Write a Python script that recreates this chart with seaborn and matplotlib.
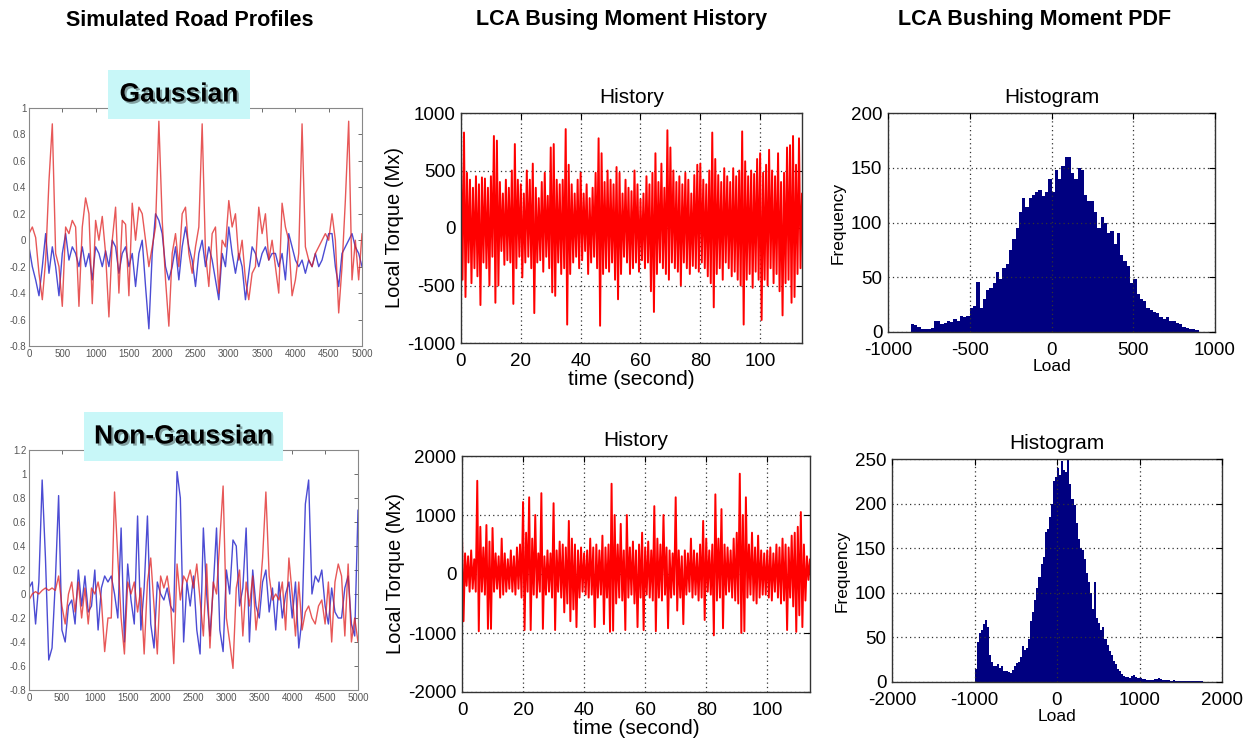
import numpy as np
import pandas as pd
import seaborn as sns
import matplotlib.pyplot as plt
from matplotlib.patches import Rectangle
from matplotlib.ticker import FuncFormatter
import matplotlib.patheffects as pe

sns.set_theme(style="white")
plt.rcParams['font.family'] = ['Liberation Sans', 'DejaVu Sans']
plt.rcParams['axes.unicode_minus'] = False
plt.rcParams['text.color'] = 'black'
plt.rcParams['axes.labelcolor'] = 'black'

# road profiles, one value every 50 samples (0..5000)
gauss_red = [0.05, 0.10, 0.02, -0.25, -0.45, -0.15, 0.45, 0.88, -0.10, -0.20,
             -0.50, 0.10, 0.05, 0.15, 0.10, -0.50, 0.10, 0.32, 0.20, -0.48,
             0.15, 0.00, 0.18, -0.10, -0.58, 0.00, 0.25, -0.40, 0.15, 0.12,
             -0.42, 0.28, 0.00, 0.25, 0.20, 0.00, -0.20, -0.05, 0.10, 0.90,
             0.15, -0.30, -0.65, -0.10, 0.05, -0.20, 0.20, 0.25, -0.10, -0.25,
             -0.05, 0.10, 0.88, -0.10, -0.35, 0.05, 0.10, -0.40, 0.00, -0.05,
             0.30, 0.10, 0.20, -0.15, 0.00, -0.30, -0.45, -0.25, -0.20, 0.25,
             0.05, 0.20, -0.15, 0.00, -0.20, -0.40, 0.28, 0.10, 0.00, -0.42,
             -0.30, -0.10, 0.88, -0.05, -0.15, -0.20, -0.10, -0.05, 0.00, 0.05,
             0.00, 0.20, 0.00, -0.55, -0.20, 0.30, 0.90, -0.30, 0.00, -0.30, 0.05]
gauss_blue = [-0.05, -0.20, -0.30, -0.42, -0.20, 0.05, -0.25, -0.05, -0.20, -0.42,
              -0.10, 0.05, -0.15, -0.05, -0.10, -0.20, -0.05, -0.20, -0.10, -0.30,
              -0.05, -0.10, -0.20, -0.08, -0.20, 0.00, -0.05, -0.25, -0.10, -0.05,
              -0.20, -0.10, -0.35, -0.10, 0.00, -0.35, -0.67, -0.10, 0.20, 0.15,
              0.05, -0.20, -0.30, -0.20, -0.05, -0.30, -0.05, 0.10, -0.05, -0.15,
              -0.35, -0.10, 0.00, -0.20, -0.05, -0.15, -0.30, -0.45, -0.10, -0.20,
              0.10, -0.10, -0.25, -0.10, -0.20, -0.45, -0.25, -0.05, -0.10, -0.20,
              -0.10, -0.05, -0.15, -0.10, -0.10, -0.20, -0.10, -0.30, 0.05, -0.05,
              -0.15, -0.20, -0.15, -0.25, -0.15, -0.20, -0.10, -0.20, -0.15, -0.05,
              0.05, 0.05, -0.20, -0.35, -0.10, -0.05, 0.00, 0.05, -0.05, -0.10, -0.20]
nongauss_blue = [0.05, 0.10, -0.25, 0.10, 0.95, 0.30, -0.55, -0.45, 0.10, 0.82,
                 -0.30, -0.40, -0.10, -0.05, -0.25, 0.20, -0.10, 0.15, -0.15, -0.10,
                 0.20, -0.30, 0.05, 0.15, 0.10, 0.15, 0.00, -0.20, 0.55, -0.40,
                 0.25, -0.05, -0.25, 0.65, -0.30, 0.05, 0.65, -0.25, -0.45, 0.10,
                 0.00, -0.05, 0.05, -0.10, -0.15, 1.02, 0.80, -0.40, 0.10, -0.10,
                 0.15, -0.30, -0.50, 0.55, 0.00, -0.35, 0.05, 0.55, -0.30, -0.48,
                 0.20, 0.00, 0.45, 0.40, -0.10, 0.05, 0.55, -0.40, 0.20, -0.10,
                 -0.20, 0.10, 0.20, -0.15, 0.05, -0.30, 0.10, -0.20, 0.00, 0.10,
                 -0.20, 0.10, -0.45, -0.20, 0.75, 0.95, 0.00, 0.15, 0.10, 0.20,
                 -0.10, -0.25, 0.05, -0.15, -0.20, -0.20, 0.05, 0.15, -0.25, -0.35, 0.70]
nongauss_red = [-0.05, 0.00, 0.02, 0.00, 0.03, 0.05, 0.03, 0.05, 0.03, 0.15,
                -0.10, -0.25, 0.00, 0.10, -0.15, 0.10, -0.20, 0.05, -0.25, 0.05,
                0.00, 0.10, -0.05, -0.48, -0.20, -0.20, 0.85, 0.30, -0.20, -0.50,
                0.10, 0.00, 0.10, -0.15, 0.05, -0.50, 0.10, 0.30, -0.10, -0.50,
                0.15, 0.05, 0.15, -0.05, -0.58, 0.25, -0.05, 0.15, 0.10, 0.20,
                0.05, 0.25, -0.05, -0.35, 0.25, -0.45, 0.10, 0.00, 0.45, 0.90,
                -0.20, -0.40, -0.62, 0.05, 0.20, -0.35, 0.10, -0.10, 0.15, -0.30,
                -0.05, 0.30, 0.85, 0.15, -0.05, 0.00, -0.05, 0.10, -0.30, 0.30,
                0.00, -0.35, 0.10, -0.30, -0.15, -0.10, -0.20, -0.25, -0.10, -0.05,
                -0.25, 0.10, -0.40, 0.10, 0.25, 0.15, -0.35, 0.25, -0.40, -0.20, -0.40]

# LCA moment history: local peaks and troughs, one pair per second
g_hist_hi = [600, 830, 480, 420, 350, 450, 380, 440, 430, 350, 450, 800, 760, 400, 300,
             420, 350, 500, 730, 420, 380, 300, 500, 420, 560, 350, 260, 400, 480, 280,
             700, 730, 420, 380, 420, 860, 550, 380, 300, 420, 480, 300, 380, 260, 350,
             480, 780, 650, 400, 500, 420, 380, 530, 480, 300, 420, 350, 320, 500, 380,
             250, 300, 450, 380, 480, 650, 400, 560, 350, 850, 700, 500, 400, 450, 380,
             480, 420, 300, 460, 550, 560, 420, 380, 500, 830, 600, 460, 400, 520, 450,
             400, 520, 450, 500, 840, 580, 450, 500, 470, 600, 650, 480, 550, 680, 500,
             450, 650, 400, 480, 700, 720, 800, 550, 780, 300]
g_hist_lo = [-450, -600, -300, -480, -350, -420, -670, -300, -350, -500, -250, -650, -500, -200, -320,
             -280, -300, -660, -350, -250, -430, -300, -250, -350, -740, -300, -280, -380, -250, -350,
             -560, -590, -300, -400, -350, -840, -400, -300, -250, -350, -280, -200, -400, -300, -250,
             -350, -850, -400, -350, -380, -300, -450, -620, -400, -250, -300, -400, -350, -300, -380,
             -280, -350, -300, -550, -730, -400, -300, -350, -400, -450, -300, -350, -380, -500, -300,
             -350, -400, -330, -350, -380, -300, -350, -420, -480, -690, -400, -350, -450, -300, -350,
             -420, -380, -450, -500, -840, -450, -400, -520, -380, -450, -800, -450, -500, -350, -480,
             -400, -550, -760, -480, -450, -650, -600, -400, -350, -250]
ng_hist_hi = [650, 350, 300, 400, 250, 1580, 800, 450, 830, 550, 780, 350, 300, 600, 350,
              250, 400, 300, 450, 500, 1220, 700, 1300, 600, 1000, 350, 1370, 300, 400, 350,
              1200, 400, 550, 500, 450, 900, 600, 500, 400, 450, 350, 400, 600, 450, 500,
              400, 650, 450, 500, 1530, 1000, 500, 850, 400, 1000, 450, 550, 400, 500, 700,
              450, 550, 400, 1150, 600, 500, 1000, 450, 400, 350, 1300, 400, 300, 400, 350,
              600, 400, 350, 500, 900, 600, 400, 500, 1350, 600, 1100, 500, 450, 400, 600,
              700, 1700, 1000, 1300, 500, 700, 450, 650, 400, 350, 400, 450, 350, 500, 450,
              600, 500, 450, 650, 700, 800, 1050, 500, 300, 250]
ng_hist_lo = [-800, -200, -300, -250, -300, -970, -300, -350, -930, -930, -300, -250, -400, -350, -300,
              -250, -300, -350, -250, -400, -950, -300, -950, -350, -400, -300, -930, -350, -300, -400,
              -950, -300, -400, -650, -500, -800, -600, -900, -400, -300, -350, -400, -350, -900, -400,
              -350, -850, -400, -980, -960, -500, -400, -450, -950, -400, -350, -500, -900, -400, -950,
              -350, -400, -450, -970, -400, -450, -350, -920, -400, -350, -620, -400, -850, -350, -300,
              -400, -350, -450, -400, -780, -300, -350, -1040, -450, -400, -920, -350, -300, -400, -450,
              -500, -1000, -970, -400, -350, -450, -500, -400, -350, -350, -400, -450, -300, -400, -500,
              -450, -950, -400, -550, -980, -700, -900, -450, -100, -200]

# LCA moment histograms (bin counts)
g_bin_start = -860
g_bin_width = 20
g_counts = [7, 6, 5, 3, 3, 3, 4, 10, 10, 7, 8, 10, 9, 12, 10, 15, 14, 15, 22, 24,
            46, 22, 30, 38, 40, 45, 55, 48, 58, 62, 75, 85, 95, 110, 122, 114, 122, 125, 128, 130,
            124, 128, 140, 128, 148, 140, 152, 160, 160, 145, 140, 150, 148, 125, 120, 120, 110, 95, 105, 100,
            90, 92, 80, 90, 70, 65, 60, 45, 48, 35, 30, 28, 22, 20, 18, 17, 14, 12, 14, 10,
            10, 8, 7, 5, 4, 3, 3, 2]
ng_bin_start = -1000
ng_bin_width = 25
ng_counts = [15, 45, 55, 58, 65, 70, 62, 30, 22, 18, 18, 20, 16, 18, 12, 12, 11, 10, 14, 18,
             21, 22, 28, 40, 36, 38, 48, 68, 78, 92, 105, 118, 132, 140, 168, 172, 185, 200, 225, 230,
             240, 232, 248, 238, 235, 250, 222, 205, 198, 178, 160, 150, 148, 138, 122, 112, 100, 82, 112, 72,
             66, 58, 62, 48, 42, 35, 30, 24, 20, 15, 12, 9, 7, 6, 6, 5, 7, 8, 6, 4,
             4, 3, 3, 2, 2, 2, 2, 3, 3, 4, 3, 2, 2, 2, 2, 1, 2, 1, 1, 1,
             1, 1, 1, 1, 1, 1, 1, 1, 1, 1, 1, 0]


def road_df(red, blue):
    x = np.arange(len(red)) * 50
    return x, np.array(red), np.array(blue)


def hist_df(hi, lo):
    t_hi = np.arange(len(hi), dtype=float)
    t = np.column_stack([t_hi, t_hi + 0.5]).ravel()
    v = np.column_stack([hi, lo]).ravel()
    return pd.DataFrame({"t": t, "v": v})


fig = plt.figure(figsize=(12.51, 7.42), dpi=100)
W, H = 1251, 742


def px_axes(x0, y0, x1, y1):
    return fig.add_axes([x0 / W, 1 - y1 / H, (x1 - x0) / W, (y1 - y0) / H])


def style_road(ax, ylim, yticks):
    ax.set_xlim(0, 5000)
    ax.set_ylim(*ylim)
    ax.set_xticks(np.arange(0, 5001, 500))
    ax.set_yticks(yticks)
    ax.yaxis.set_major_formatter(FuncFormatter(lambda v, p: "%g" % (round(v, 2) + 0.0)))
    ax.tick_params(direction="in", top=True, right=True, length=3, width=0.6,
                   labelsize=7, colors="#555555", pad=2)
    for s in ax.spines.values():
        s.set_color("#888888")
        s.set_linewidth(0.8)


def style_matlab(ax):
    ax.grid(True, linestyle=(0, (1, 2.5)), color="#333333", linewidth=0.9)
    ax.tick_params(direction="in", top=True, right=True, length=4, width=0.8,
                   labelsize=13.5, colors="black")
    ax.tick_params(axis="x", pad=7)
    ax.tick_params(axis="y", pad=4)
    for s in ax.spines.values():
        s.set_color("#333333")
        s.set_linewidth(1.0)


# left column
for (red, blue, box, ylim, yt) in [
        (gauss_red, gauss_blue, (29, 108, 362, 346), (-0.8, 1.0), np.arange(-0.8, 1.01, 0.2)),
        (nongauss_red, nongauss_blue, (29, 450, 358, 690), (-0.8, 1.2), np.arange(-0.8, 1.21, 0.2))]:
    ax = px_axes(*box)
    x, r, b = road_df(red, blue)
    sns.lineplot(x=x, y=b, ax=ax, color="#2c2ccc", linewidth=1.0, alpha=0.85)
    sns.lineplot(x=x, y=r, ax=ax, color="#e02020", linewidth=1.0, alpha=0.75)
    style_road(ax, ylim, yt)
    ax.set_xlabel("")
    ax.set_ylabel("")

# label boxes
for (x0, y0, x1, y1, txt) in [(108, 70, 250, 119, "Gaussian"), (84, 412, 283, 461, "Non-Gaussian")]:
    fig.patches.append(Rectangle((x0 / W, 1 - y1 / H), (x1 - x0) / W, (y1 - y0) / H,
                                 transform=fig.transFigure, facecolor="#c8f7f8",
                                 edgecolor="none", zorder=5))
    fig.text((x0 + x1) / 2 / W, 1 - (y0 + y1) / 2 / H, txt, ha="center", va="center",
             fontsize=19, fontweight="bold", color="black", zorder=6,
             path_effects=[pe.withSimplePatchShadow(offset=(1.5, -1.5), alpha=0.35)])

# middle column
for (hi, lo, box, ylim, yt) in [
        (g_hist_hi, g_hist_lo, (461, 113, 802, 343), (-1000, 1000), [-1000, -500, 0, 500, 1000]),
        (ng_hist_hi, ng_hist_lo, (462, 456, 810, 692), (-2000, 2000), [-2000, -1000, 0, 1000, 2000])]:
    ax = px_axes(*box)
    df = hist_df(hi, lo)
    sns.lineplot(data=df, x="t", y="v", ax=ax, color="#ff0000", linewidth=1.4,
                 sort=False, estimator=None)
    ax.set_xlim(0, 114)
    ax.set_ylim(*ylim)
    ax.set_xticks([0, 20, 40, 60, 80, 100])
    ax.set_yticks(yt)
    style_matlab(ax)
    ax.set_title("History", fontsize=15, pad=7)
    ax.set_xlabel("time (second)", fontsize=15, labelpad=0)
    ax.set_ylabel("Local Torque (Mx)", fontsize=14.5, labelpad=2)

# right column
for (start, width, counts, box, xlim, xt, ylim, yt) in [
        (g_bin_start, g_bin_width, g_counts, (888, 113, 1215, 332), (-1000, 1000),
         [-1000, -500, 0, 500, 1000], (0, 200), [0, 50, 100, 150, 200]),
        (ng_bin_start, ng_bin_width, ng_counts, (892, 459, 1222, 682), (-2000, 2000),
         [-2000, -1000, 0, 1000, 2000], (0, 250), [0, 50, 100, 150, 200, 250])]:
    ax = px_axes(*box)
    centers = start + width * (np.arange(len(counts)) + 0.5)
    hdf = pd.DataFrame({"load": centers, "count": counts})
    sns.histplot(data=hdf, x="load", weights="count", binwidth=width,
                 binrange=(start, start + width * len(counts)), ax=ax, color="#000080",
                 alpha=1, linewidth=0)
    ax.set_xlim(*xlim)
    ax.set_ylim(*ylim)
    ax.set_xticks(xt)
    ax.set_yticks(yt)
    style_matlab(ax)
    ax.set_axisbelow(False)
    ax.set_title("Histogram", fontsize=15, pad=7)
    ax.set_xlabel("Load", fontsize=12.5, labelpad=0)
    ax.set_ylabel("Frequency", fontsize=12.5, labelpad=4)

# column headings
for (xc, txt) in [(190, "Simulated Road Profiles"), (622, "LCA Busing Moment History"),
                  (1035, "LCA Bushing Moment PDF")]:
    fig.text(xc / W, 1 - 20 / H, txt, ha="center", va="center", fontsize=15.5,
             fontweight="bold", color="black")

fig.savefig("out.png", dpi=100, facecolor="white")
